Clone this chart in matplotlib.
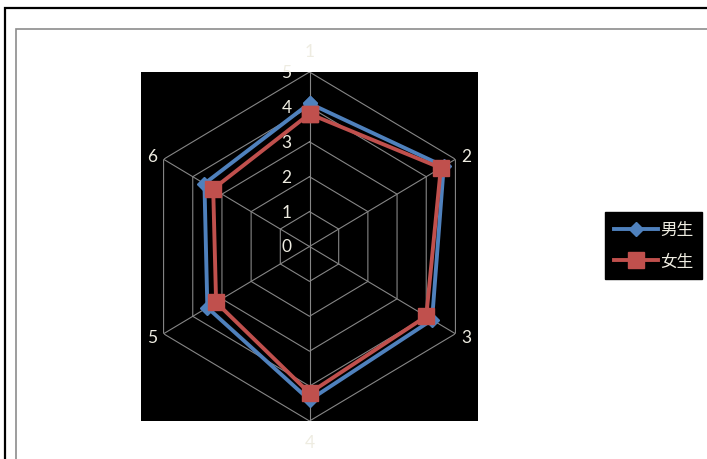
import numpy as np
import matplotlib.pyplot as plt
from matplotlib.patches import Rectangle

# Dados
categorias = ['1', '2', '3', '4', '5', '6']
niveis = [0, 1, 2, 3, 4, 5]
series = ['男生', '女生']
valores_m = [4.1, 4.6, 4.2, 4.4, 3.5, 3.6]   # 男生
valores_f = [3.8, 4.5, 4.0, 4.2, 3.2, 3.3]   # 女生

cor_texto = '#EEECE1'
cor_grade = '#868686'
W, H = 707, 460

plt.rcParams['font.family'] = ['Lato', 'Noto Sans CJK SC', 'DejaVu Sans']

fig = plt.figure(figsize=(W / 100, H / 100), dpi=100)
fig.patch.set_facecolor('white')

# Molduras (recortadas nas bordas direita e inferior)
fig.patches.append(Rectangle((4.5 / W, -0.5), 2, (H - 9) / H + 0.5, transform=fig.transFigure,
                             fill=False, edgecolor='black', lw=1.6, clip_on=False))
fig.patches.append(Rectangle((15.5 / W, -0.5), 2, (H - 30) / H + 0.5, transform=fig.transFigure,
                             fill=False, edgecolor='#8c8c8c', lw=1.2, clip_on=False))

# Área de plotagem (fundo preto)
area = [141 / W, 38 / H, 337 / W, 349 / H]
fundo = fig.add_axes(area)
fundo.set_facecolor('black')
fundo.set_xticks([])
fundo.set_yticks([])
for s in fundo.spines.values():
    s.set_visible(False)

ax = fig.add_axes(area, projection='polar')
ax.set_aspect('auto')
ax.set_facecolor('none')
ax.set_theta_zero_location('N')
ax.set_theta_direction(-1)
ax.set_ylim(0, 5)
ax.set_xticks([])
ax.set_yticks([])
ax.grid(False)
ax.spines['polar'].set_visible(False)

ang = np.linspace(0, 2 * np.pi, len(categorias), endpoint=False)
ang_f = np.append(ang, ang[0])

# Grade hexagonal
for r in niveis[1:]:
    ax.plot(ang_f, [r] * len(ang_f), color=cor_grade, lw=0.8, zorder=1)
for a in ang:
    ax.plot([a, a], [0, niveis[-1]], color=cor_grade, lw=0.8, zorder=1)

# Séries
ax.plot(ang_f, valores_m + valores_m[:1], color='#4F81BD', lw=2.8, marker='D', ms=7.5,
        label=series[0], zorder=3, clip_on=False)
ax.plot(ang_f, valores_f + valores_f[:1], color='#C0504D', lw=2.8, marker='s', ms=11,
        label=series[1], zorder=4, clip_on=False)

# Rótulos do eixo radial
for v in niveis:
    ax.annotate(str(v), xy=(0, v), xytext=(-18, 0), textcoords='offset pixels',
                ha='right', va='center', color=cor_texto, fontsize=12.5)

# Rótulos das categorias
desloc = [(0, 21, 'center'), (6, 3, 'left'), (6, -3, 'left'),
          (0, -21, 'center'), (-6, -3, 'right'), (-6, 3, 'right')]
for a, c, (dx, dy, ha) in zip(ang, categorias, desloc):
    ax.annotate(c, xy=(a, niveis[-1]), xytext=(dx, dy), textcoords='offset pixels',
                ha=ha, va='center', color=cor_texto, fontsize=12.5, annotation_clip=False)

leg = fig.legend(loc='center left', bbox_to_anchor=(605 / W, (H - 246.5) / H),
                 frameon=True, facecolor='black', edgecolor='black', fancybox=False,
                 framealpha=1, labelcolor=cor_texto, handlelength=2.6, handletextpad=0.15,
                 labelspacing=0.85, borderpad=0.55, borderaxespad=0,
                 prop={'family': ['Noto Sans CJK SC', 'DejaVu Sans'], 'size': 12})

fig.savefig('out.png', dpi=100, facecolor='white')
